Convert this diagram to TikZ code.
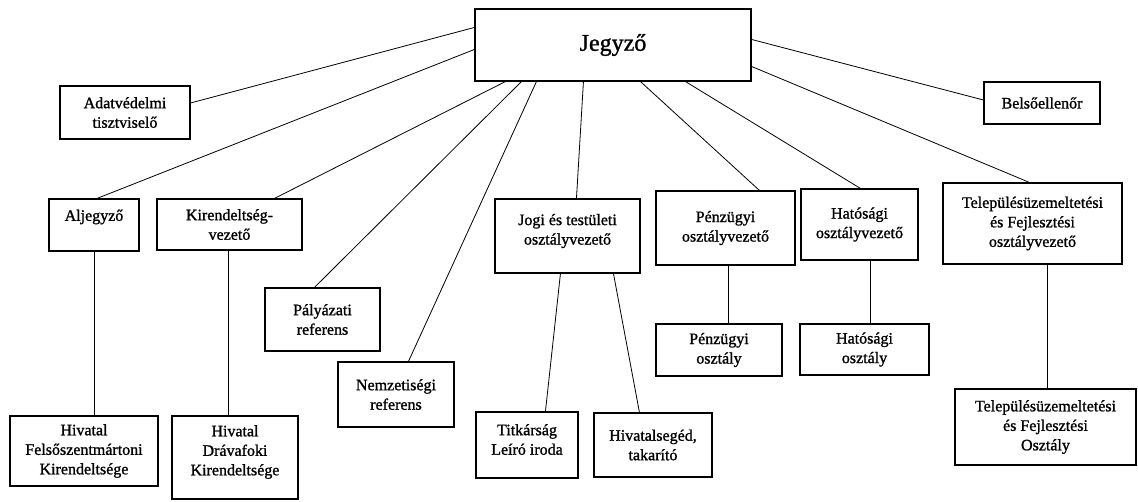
\documentclass[tikz,border=0pt]{standalone}
\usepackage{fontspec}
\setmainfont{Liberation Serif}[BoldFont=Liberation Serif,BoldFeatures={FakeBold=1.2}]
\begin{document}
\begin{tikzpicture}[x=1pt,y=-1pt,
  box/.style={draw,line width=1.1pt,rectangle,inner sep=0pt,align=center,
    font=\fontsize{16}{19.5}\selectfont\bfseries},
  txt/.style={inner sep=0pt,align=center,font=\fontsize{16}{19.5}\selectfont\bfseries},
  conn/.style={line width=0.8pt}]
\useasboundingbox (0,0) rectangle (1138,502);

% top
\node[box,minimum width=276pt,minimum height=72pt,font=\fontsize{24}{28}\selectfont\bfseries] (jeg) at (613,45) {Jegyző};
\node[box,minimum width=130pt,minimum height=53pt] (adat) at (125,112.5) {Adatvédelmi\\tisztviselő};
\node[box,minimum width=116pt,minimum height=42pt] (bels) at (1042,103) {Belsőellenőr};

% second level
\node[box,minimum width=90pt,minimum height=52pt] (alj) at (94,225) {};
\node[txt] (aljt) at ([yshift=8pt]alj.center) {Aljegyző};
\node[box,minimum width=145pt,minimum height=51pt] (kir) at (229.5,224.5) {Kirendeltség-\\vezető};
\node[box,minimum width=115pt,minimum height=63pt] (paly) at (322.5,319.5) {Pályázati\\referens};
\node[box,minimum width=116pt,minimum height=65pt] (nem) at (396,394.5) {Nemzetiségi\\referens};
\node[box,minimum width=145pt,minimum height=74pt] (jogi) at (567.5,236) {};
\node[txt] (jogit) at ([yshift=5pt]jogi.center) {Jogi és testületi\\osztályvezető};
\node[box,minimum width=139pt,minimum height=74pt] (penzv) at (725.5,228) {Pénzügyi\\osztályvezető};
\node[box,minimum width=117pt,minimum height=71pt] (hatv) at (859.5,224.5) {Hatósági\\osztályvezető};
\node[box,minimum width=179pt,minimum height=81pt] (telv) at (1032.5,223.5) {Településüzemeltetési\\és Fejlesztési\\osztályvezető};

% third level
\node[box,minimum width=148pt,minimum height=70pt] (hfel) at (84,451) {Hivatal\\Felsőszentmártoni\\Kirendeltsége};
\node[box,minimum width=126pt,minimum height=83pt] (hdrav) at (235,457.5) {};
\node[txt] (hdravt) at ([yshift=5.5pt]hdrav.center) {Hivatal\\Drávafoki\\Kirendeltsége};
\node[box,minimum width=102pt,minimum height=66pt] (titk) at (527,445) {};
\node[txt] (titkt) at ([yshift=5.5pt]titk.center) {Titkárság\\Leíró iroda};
\node[box,minimum width=118pt,minimum height=64pt] (hivs) at (653,445) {Hivatalsegéd,\\takarító};
\node[box,minimum width=126pt,minimum height=52pt] (penzo) at (719,350) {Pénzügyi\\osztály};
\node[box,minimum width=129pt,minimum height=51pt] (hato) at (864.5,349.5) {Hatósági\\osztály};
\node[box,minimum width=181pt,minimum height=76pt] (telo) at (1045.5,427) {Településüzemeltetési\\és Fejlesztési\\Osztály};

% connectors from Jegyző
\draw[conn] ([yshift=-19pt]jeg.north west) -- ([yshift=9.5pt]adat.east);
\draw[conn] ([yshift=-41pt]jeg.north west) -- ([xshift=3pt]alj.north);
\draw[conn] ([xshift=31pt]jeg.south west) -- ([xshift=118pt]kir.north west);
\draw[conn] ([xshift=47pt]jeg.south west) -- ([xshift=50pt]paly.north west);
\draw[conn] ([xshift=62pt]jeg.south west) -- ([xshift=71pt]nem.north west);
\draw[conn] ([xshift=109pt]jeg.south west) -- ([xshift=82pt]jogi.north west);
\draw[conn] ([xshift=166pt]jeg.south west) -- ([xshift=104pt]penzv.north west);
\draw[conn] ([xshift=211pt]jeg.south west) -- ([xshift=60pt]hatv.north west);
\draw[conn] ([yshift=-31pt]jeg.north east) -- ([yshift=3pt]bels.west);
\draw[conn] ([yshift=-58pt]jeg.north east) -- ([xshift=87pt]telv.north west);

% lower connectors
\draw[conn] (alj.south) -- (alj.south |- hfel.north);
\draw[conn] ([xshift=-1.5pt]kir.south) -- ([xshift=-1.5pt]kir.south |- hdrav.north);
\draw[conn] ([xshift=66pt]jogi.south west) -- ([xshift=70pt]titk.north west);
\draw[conn] ([xshift=119pt]jogi.south west) -- ([xshift=46pt]hivs.north west);
\draw[conn] ([xshift=2.5pt]penzv.south) -- ([xshift=2.5pt]penzv.south |- penzo.north);
\draw[conn] ([xshift=10.5pt]hatv.south) -- ([xshift=10.5pt]hatv.south |- hato.north);
\draw[conn] ([xshift=14.5pt]telv.south) -- ([xshift=14.5pt]telv.south |- telo.north);
\end{tikzpicture}
\end{document}
